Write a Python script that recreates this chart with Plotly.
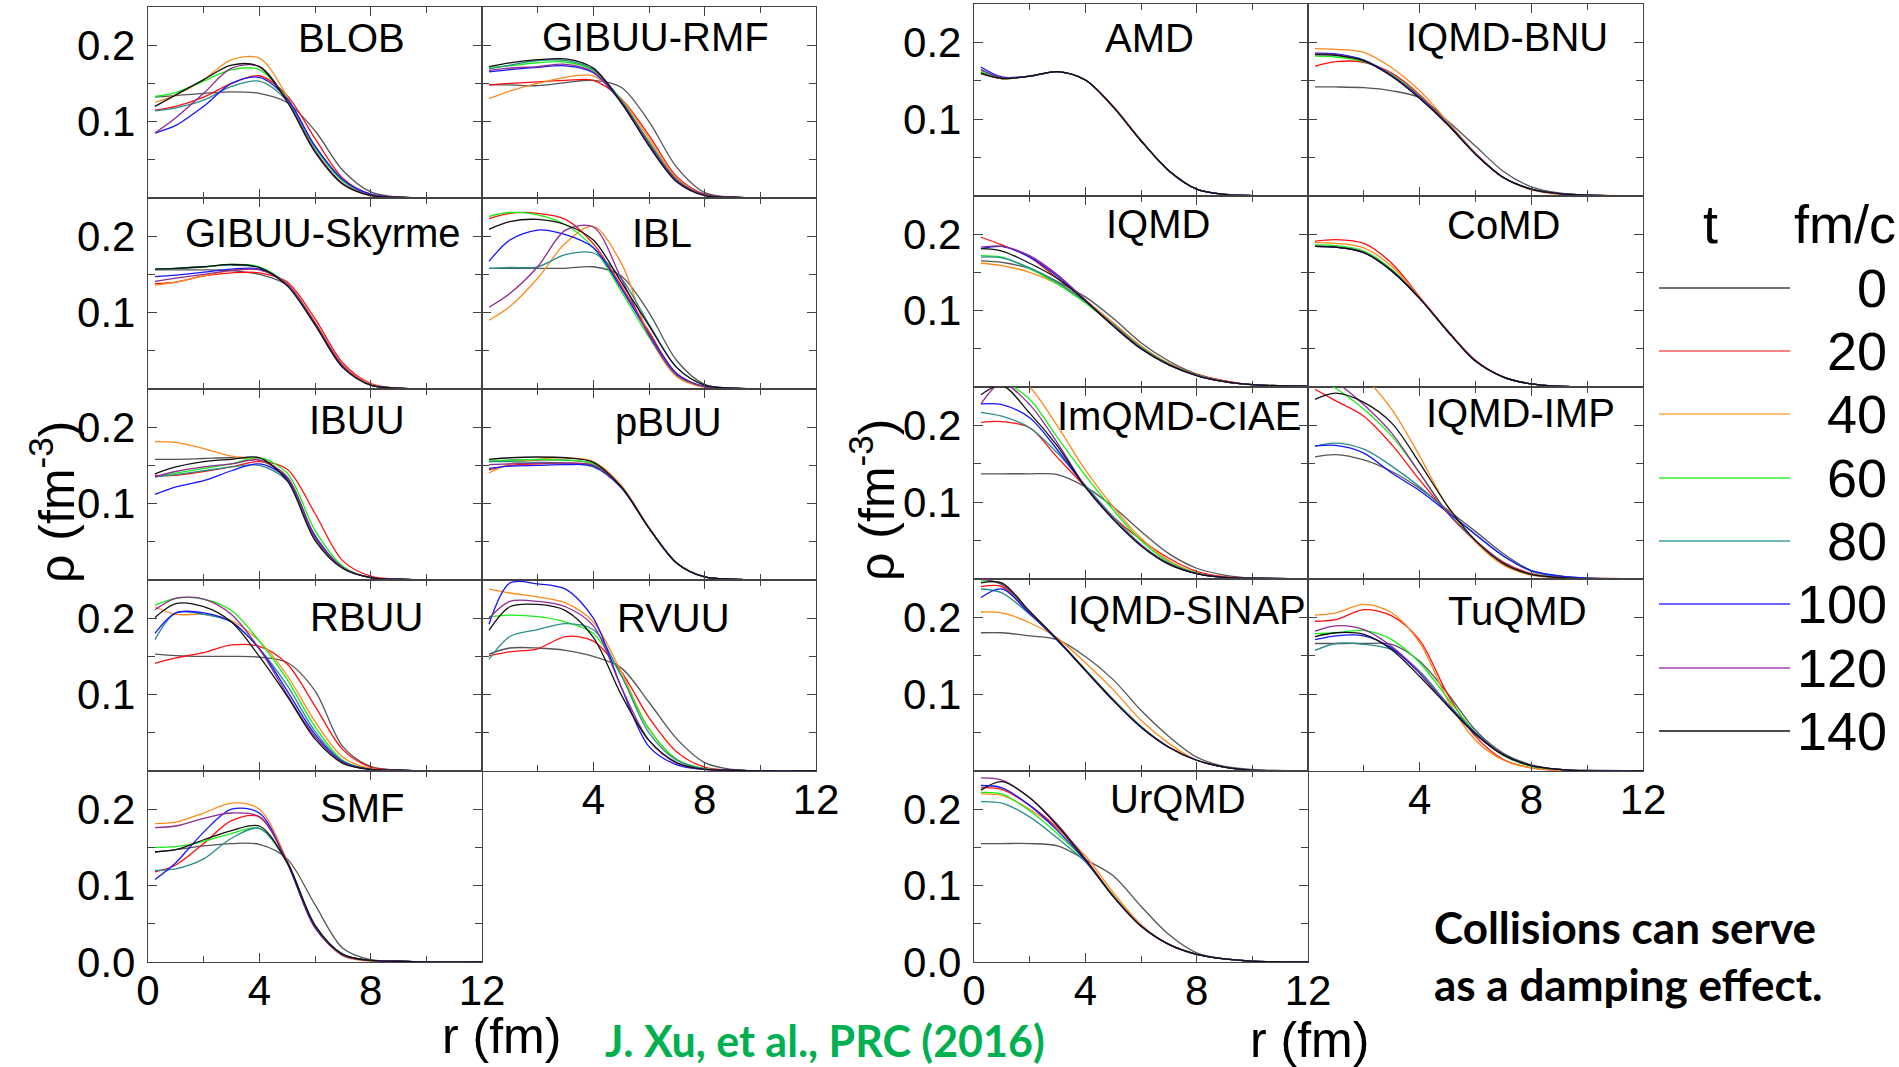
import plotly.graph_objects as go

W, H = 1899, 1067

# radial grid (fm)
R = [0.25, 1, 2, 3, 4, 5, 6, 7, 8, 9, 10, 12]
T_LABELS = ['0', '20', '40', '60', '80', '100', '120', '140']
LINE_COLORS = ['#555555', '#ff1010', '#ff8a1c', '#17f017', '#2b8d8d', '#1515ff', '#8e2a92', '#111111']
LEG_COLORS = ['#444444', '#ff5a5a', '#ffa94d', '#33ee33', '#3f9f9f', '#6a6aff', '#a040b0', '#111111']

# density values rho(r) for t = 0,20,...,140 fm/c
BLOB = [
    [0.132, 0.134, 0.137, 0.139, 0.137, 0.125, 0.088, 0.036, 0.008, 0.001, 0, 0],
    [0.115, 0.120, 0.132, 0.150, 0.160, 0.134, 0.078, 0.026, 0.005, 0.001, 0, 0],
    [0.125, 0.135, 0.155, 0.181, 0.183, 0.133, 0.062, 0.018, 0.003, 0.001, 0, 0],
    [0.133, 0.138, 0.153, 0.168, 0.168, 0.130, 0.066, 0.022, 0.004, 0.001, 0, 0],
    [0.114, 0.118, 0.128, 0.146, 0.153, 0.127, 0.068, 0.024, 0.005, 0.001, 0, 0],
    [0.085, 0.095, 0.120, 0.150, 0.158, 0.130, 0.068, 0.024, 0.005, 0.001, 0, 0],
    [0.085, 0.105, 0.137, 0.170, 0.172, 0.127, 0.062, 0.019, 0.004, 0.001, 0, 0],
    [0.120, 0.135, 0.155, 0.174, 0.172, 0.126, 0.060, 0.018, 0.003, 0.001, 0, 0],
]
GIBUU_RMF = [
    [0.148, 0.148, 0.147, 0.151, 0.154, 0.145, 0.100, 0.040, 0.007, 0.001, 0, 0],
    [0.148, 0.150, 0.152, 0.154, 0.154, 0.130, 0.082, 0.028, 0.005, 0.001, 0, 0],
    [0.130, 0.140, 0.150, 0.158, 0.160, 0.130, 0.078, 0.026, 0.004, 0.001, 0, 0],
    [0.171, 0.173, 0.177, 0.178, 0.167, 0.128, 0.074, 0.024, 0.004, 0.001, 0, 0],
    [0.169, 0.174, 0.180, 0.180, 0.168, 0.128, 0.073, 0.024, 0.004, 0.001, 0, 0],
    [0.165, 0.168, 0.171, 0.173, 0.164, 0.125, 0.070, 0.022, 0.004, 0.001, 0, 0],
    [0.167, 0.170, 0.172, 0.175, 0.165, 0.126, 0.071, 0.023, 0.004, 0.001, 0, 0],
    [0.172, 0.177, 0.181, 0.182, 0.170, 0.125, 0.068, 0.021, 0.003, 0.001, 0, 0],
]
GIBUU_SKYRME = [
    [0.156, 0.156, 0.156, 0.155, 0.150, 0.136, 0.086, 0.030, 0.006, 0.001, 0, 0],
    [0.138, 0.140, 0.148, 0.152, 0.152, 0.140, 0.092, 0.034, 0.007, 0.001, 0, 0],
    [0.136, 0.140, 0.148, 0.155, 0.156, 0.138, 0.088, 0.031, 0.006, 0.001, 0, 0],
    [0.157, 0.158, 0.160, 0.163, 0.160, 0.137, 0.085, 0.029, 0.005, 0.001, 0, 0],
    [0.157, 0.158, 0.160, 0.162, 0.159, 0.136, 0.085, 0.029, 0.005, 0.001, 0, 0],
    [0.147, 0.149, 0.153, 0.157, 0.157, 0.137, 0.086, 0.030, 0.005, 0.001, 0, 0],
    [0.141, 0.145, 0.150, 0.155, 0.156, 0.137, 0.086, 0.030, 0.005, 0.001, 0, 0],
    [0.157, 0.158, 0.160, 0.163, 0.159, 0.135, 0.084, 0.028, 0.005, 0.001, 0, 0],
]
IBL = [
    [0.158, 0.158, 0.158, 0.158, 0.160, 0.148, 0.100, 0.037, 0.006, 0.001, 0, 0],
    [0.223, 0.230, 0.230, 0.222, 0.190, 0.135, 0.075, 0.020, 0.003, 0.001, 0, 0],
    [0.090, 0.108, 0.145, 0.191, 0.213, 0.165, 0.070, 0.016, 0.002, 0.001, 0, 0],
    [0.226, 0.231, 0.228, 0.215, 0.185, 0.128, 0.068, 0.018, 0.003, 0.001, 0, 0],
    [0.158, 0.159, 0.160, 0.176, 0.178, 0.145, 0.085, 0.028, 0.005, 0.001, 0, 0],
    [0.167, 0.195, 0.208, 0.202, 0.185, 0.132, 0.072, 0.020, 0.003, 0.001, 0, 0],
    [0.107, 0.125, 0.160, 0.208, 0.212, 0.145, 0.070, 0.018, 0.003, 0.001, 0, 0],
    [0.209, 0.219, 0.222, 0.215, 0.195, 0.140, 0.083, 0.028, 0.005, 0.001, 0, 0],
]
IBUU = [
    [0.158, 0.158, 0.159, 0.160, 0.157, 0.133, 0.055, 0.016, 0.003, 0.001, 0, 0],
    [0.137, 0.137, 0.142, 0.148, 0.155, 0.145, 0.087, 0.025, 0.005, 0.001, 0, 0],
    [0.181, 0.180, 0.172, 0.162, 0.157, 0.135, 0.058, 0.016, 0.003, 0.001, 0, 0],
    [0.135, 0.140, 0.146, 0.152, 0.160, 0.140, 0.065, 0.018, 0.003, 0.001, 0, 0],
    [0.135, 0.138, 0.143, 0.148, 0.150, 0.130, 0.055, 0.016, 0.003, 0.001, 0, 0],
    [0.112, 0.122, 0.130, 0.143, 0.152, 0.133, 0.058, 0.016, 0.003, 0.001, 0, 0],
    [0.135, 0.142, 0.148, 0.152, 0.157, 0.135, 0.056, 0.016, 0.003, 0.001, 0, 0],
    [0.139, 0.148, 0.155, 0.158, 0.160, 0.130, 0.052, 0.015, 0.003, 0.001, 0, 0],
]
PBUU = [
    [0.155, 0.157, 0.157, 0.157, 0.152, 0.122, 0.068, 0.022, 0.004, 0.001, 0, 0],
    [0.144, 0.150, 0.152, 0.153, 0.150, 0.122, 0.068, 0.022, 0.004, 0.001, 0, 0],
    [0.140, 0.152, 0.158, 0.160, 0.155, 0.124, 0.069, 0.022, 0.004, 0.001, 0, 0],
    [0.156, 0.157, 0.158, 0.157, 0.152, 0.122, 0.068, 0.022, 0.004, 0.001, 0, 0],
    [0.155, 0.155, 0.154, 0.153, 0.148, 0.121, 0.068, 0.022, 0.004, 0.001, 0, 0],
    [0.146, 0.149, 0.150, 0.151, 0.149, 0.121, 0.068, 0.022, 0.004, 0.001, 0, 0],
    [0.151, 0.152, 0.153, 0.153, 0.150, 0.122, 0.068, 0.022, 0.004, 0.001, 0, 0],
    [0.158, 0.160, 0.161, 0.160, 0.154, 0.122, 0.068, 0.022, 0.004, 0.001, 0, 0],
]
RBUU = [
    [0.153, 0.151, 0.150, 0.150, 0.149, 0.142, 0.105, 0.032, 0.006, 0.001, 0, 0],
    [0.141, 0.148, 0.155, 0.165, 0.163, 0.140, 0.085, 0.028, 0.005, 0.001, 0, 0],
    [0.215, 0.205, 0.205, 0.197, 0.170, 0.125, 0.065, 0.018, 0.003, 0.001, 0, 0],
    [0.217, 0.226, 0.225, 0.210, 0.170, 0.120, 0.058, 0.014, 0.002, 0.001, 0, 0],
    [0.172, 0.207, 0.205, 0.195, 0.160, 0.112, 0.052, 0.013, 0.002, 0.001, 0, 0],
    [0.180, 0.207, 0.207, 0.195, 0.160, 0.105, 0.048, 0.012, 0.002, 0.001, 0, 0],
    [0.211, 0.226, 0.225, 0.205, 0.160, 0.100, 0.045, 0.011, 0.002, 0.001, 0, 0],
    [0.201, 0.219, 0.215, 0.195, 0.150, 0.098, 0.042, 0.010, 0.002, 0.001, 0, 0],
]
RVUU = [
    [0.153, 0.161, 0.161, 0.158, 0.150, 0.135, 0.090, 0.042, 0.011, 0.002, 0, 0],
    [0.151, 0.156, 0.160, 0.176, 0.170, 0.130, 0.070, 0.025, 0.005, 0.001, 0, 0],
    [0.238, 0.233, 0.228, 0.220, 0.195, 0.130, 0.055, 0.015, 0.003, 0.001, 0, 0],
    [0.202, 0.204, 0.202, 0.195, 0.180, 0.125, 0.055, 0.015, 0.003, 0.001, 0, 0],
    [0.146, 0.176, 0.185, 0.193, 0.185, 0.125, 0.050, 0.014, 0.003, 0.001, 0, 0],
    [0.192, 0.246, 0.245, 0.238, 0.200, 0.110, 0.032, 0.008, 0.002, 0.001, 0, 0],
    [0.200, 0.222, 0.222, 0.215, 0.190, 0.110, 0.040, 0.010, 0.002, 0.001, 0, 0],
    [0.184, 0.215, 0.218, 0.210, 0.175, 0.100, 0.040, 0.011, 0.002, 0.001, 0, 0],
]
SMF = [
    [0.144, 0.147, 0.152, 0.155, 0.154, 0.135, 0.075, 0.018, 0.003, 0.001, 0, 0],
    [0.118, 0.127, 0.155, 0.185, 0.190, 0.130, 0.045, 0.010, 0.002, 0.001, 0, 0],
    [0.181, 0.183, 0.195, 0.208, 0.200, 0.133, 0.045, 0.008, 0.001, 0.001, 0, 0],
    [0.150, 0.151, 0.158, 0.168, 0.175, 0.130, 0.048, 0.010, 0.002, 0.001, 0, 0],
    [0.120, 0.122, 0.135, 0.162, 0.175, 0.130, 0.048, 0.010, 0.002, 0.001, 0, 0],
    [0.108, 0.130, 0.170, 0.200, 0.195, 0.130, 0.045, 0.009, 0.002, 0.001, 0, 0],
    [0.176, 0.178, 0.188, 0.195, 0.190, 0.132, 0.046, 0.009, 0.002, 0.001, 0, 0],
    [0.144, 0.147, 0.160, 0.172, 0.178, 0.130, 0.048, 0.010, 0.002, 0.001, 0, 0],
]
AMD = [
    [0.159, 0.153, 0.156, 0.162, 0.151, 0.116, 0.072, 0.033, 0.009, 0.002, 0.0005, 0],
    [0.160, 0.153, 0.156, 0.162, 0.151, 0.117, 0.072, 0.033, 0.009, 0.002, 0.0005, 0],
    [0.161, 0.153, 0.156, 0.162, 0.151, 0.117, 0.073, 0.033, 0.009, 0.002, 0.0005, 0],
    [0.162, 0.153, 0.156, 0.162, 0.151, 0.116, 0.072, 0.033, 0.009, 0.002, 0.0005, 0],
    [0.164, 0.154, 0.156, 0.162, 0.151, 0.116, 0.072, 0.033, 0.009, 0.002, 0.0005, 0],
    [0.168, 0.155, 0.156, 0.162, 0.151, 0.116, 0.072, 0.033, 0.009, 0.002, 0.0005, 0],
    [0.165, 0.154, 0.156, 0.162, 0.151, 0.116, 0.072, 0.033, 0.009, 0.002, 0.0005, 0],
    [0.160, 0.153, 0.156, 0.162, 0.151, 0.116, 0.072, 0.033, 0.009, 0.002, 0.0005, 0],
]
IQMD_BNU = [
    [0.142, 0.142, 0.141, 0.137, 0.128, 0.098, 0.065, 0.032, 0.012, 0.004, 0.001, 0],
    [0.169, 0.175, 0.174, 0.160, 0.132, 0.094, 0.055, 0.024, 0.009, 0.003, 0.001, 0],
    [0.192, 0.191, 0.187, 0.167, 0.137, 0.097, 0.056, 0.024, 0.008, 0.002, 0.001, 0],
    [0.182, 0.181, 0.175, 0.158, 0.130, 0.094, 0.055, 0.024, 0.009, 0.003, 0.001, 0],
    [0.185, 0.184, 0.177, 0.157, 0.129, 0.094, 0.055, 0.024, 0.009, 0.003, 0.001, 0],
    [0.186, 0.185, 0.177, 0.157, 0.129, 0.094, 0.055, 0.024, 0.009, 0.003, 0.001, 0],
    [0.185, 0.184, 0.176, 0.156, 0.128, 0.093, 0.055, 0.024, 0.009, 0.003, 0.001, 0],
    [0.184, 0.183, 0.176, 0.156, 0.127, 0.093, 0.054, 0.024, 0.009, 0.003, 0.001, 0],
]
IQMD = [
    [0.165, 0.163, 0.155, 0.138, 0.118, 0.090, 0.058, 0.034, 0.017, 0.008, 0.003, 0.001],
    [0.196, 0.186, 0.170, 0.142, 0.114, 0.083, 0.052, 0.031, 0.017, 0.008, 0.003, 0.001],
    [0.162, 0.159, 0.150, 0.135, 0.113, 0.084, 0.054, 0.031, 0.016, 0.007, 0.003, 0.001],
    [0.172, 0.170, 0.155, 0.135, 0.110, 0.081, 0.052, 0.030, 0.016, 0.007, 0.003, 0.001],
    [0.170, 0.169, 0.156, 0.137, 0.112, 0.082, 0.052, 0.030, 0.016, 0.007, 0.003, 0.001],
    [0.181, 0.184, 0.170, 0.145, 0.113, 0.080, 0.050, 0.029, 0.015, 0.007, 0.003, 0.001],
    [0.183, 0.184, 0.172, 0.147, 0.114, 0.080, 0.050, 0.029, 0.015, 0.007, 0.003, 0.001],
    [0.181, 0.178, 0.162, 0.142, 0.113, 0.080, 0.050, 0.029, 0.015, 0.007, 0.003, 0.001],
]
COMD = [
    [0.184, 0.183, 0.176, 0.152, 0.116, 0.073, 0.034, 0.013, 0.004, 0.001, 0, 0],
    [0.191, 0.193, 0.188, 0.162, 0.118, 0.074, 0.035, 0.013, 0.004, 0.001, 0, 0],
    [0.189, 0.188, 0.182, 0.158, 0.117, 0.073, 0.034, 0.013, 0.004, 0.001, 0, 0],
    [0.186, 0.185, 0.178, 0.154, 0.116, 0.073, 0.034, 0.013, 0.004, 0.001, 0, 0],
    [0.184, 0.183, 0.176, 0.152, 0.116, 0.073, 0.034, 0.013, 0.004, 0.001, 0, 0],
    [0.184, 0.183, 0.176, 0.152, 0.116, 0.073, 0.034, 0.013, 0.004, 0.001, 0, 0],
    [0.184, 0.183, 0.176, 0.152, 0.116, 0.073, 0.034, 0.013, 0.004, 0.001, 0, 0],
    [0.184, 0.183, 0.176, 0.152, 0.116, 0.073, 0.034, 0.013, 0.004, 0.001, 0, 0],
]
IMQMD_CIAE = [
    [0.137, 0.137, 0.137, 0.136, 0.120, 0.094, 0.062, 0.033, 0.014, 0.005, 0.001, 0],
    [0.204, 0.205, 0.197, 0.158, 0.120, 0.081, 0.051, 0.027, 0.010, 0.003, 0.001, 0],
    [0.285, 0.275, 0.250, 0.199, 0.142, 0.094, 0.053, 0.024, 0.008, 0.002, 0.001, 0],
    [0.265, 0.258, 0.234, 0.184, 0.135, 0.090, 0.050, 0.022, 0.008, 0.002, 0.001, 0],
    [0.217, 0.212, 0.197, 0.164, 0.122, 0.081, 0.045, 0.020, 0.007, 0.002, 0.001, 0],
    [0.228, 0.227, 0.210, 0.168, 0.120, 0.078, 0.044, 0.020, 0.007, 0.002, 0.001, 0],
    [0.228, 0.255, 0.227, 0.177, 0.120, 0.078, 0.044, 0.020, 0.007, 0.002, 0.001, 0],
    [0.240, 0.252, 0.216, 0.173, 0.120, 0.078, 0.043, 0.019, 0.007, 0.002, 0.001, 0],
]
IQMD_IMP = [
    [0.159, 0.162, 0.155, 0.140, 0.118, 0.090, 0.062, 0.033, 0.011, 0.004, 0.001, 0],
    [0.247, 0.232, 0.212, 0.175, 0.129, 0.086, 0.050, 0.022, 0.007, 0.002, 0.001, 0],
    [0.290, 0.283, 0.262, 0.221, 0.160, 0.094, 0.048, 0.018, 0.005, 0.001, 0, 0],
    [0.262, 0.248, 0.221, 0.186, 0.138, 0.087, 0.050, 0.021, 0.006, 0.002, 0, 0],
    [0.173, 0.177, 0.169, 0.147, 0.120, 0.088, 0.058, 0.030, 0.010, 0.003, 0.001, 0],
    [0.173, 0.174, 0.164, 0.138, 0.115, 0.087, 0.058, 0.030, 0.011, 0.004, 0.001, 0],
    [0.268, 0.256, 0.227, 0.190, 0.138, 0.086, 0.050, 0.021, 0.006, 0.002, 0, 0],
    [0.234, 0.242, 0.230, 0.203, 0.151, 0.095, 0.050, 0.020, 0.006, 0.002, 0, 0],
]
IQMD_SINAP = [
    [0.180, 0.180, 0.176, 0.171, 0.149, 0.119, 0.079, 0.045, 0.018, 0.006, 0.002, 0],
    [0.240, 0.240, 0.206, 0.171, 0.132, 0.093, 0.058, 0.031, 0.014, 0.005, 0.001, 0],
    [0.207, 0.206, 0.193, 0.173, 0.141, 0.106, 0.066, 0.036, 0.014, 0.005, 0.001, 0],
    [0.248, 0.243, 0.206, 0.171, 0.132, 0.093, 0.058, 0.031, 0.014, 0.005, 0.001, 0],
    [0.237, 0.232, 0.204, 0.170, 0.132, 0.093, 0.058, 0.031, 0.014, 0.005, 0.001, 0],
    [0.226, 0.237, 0.205, 0.170, 0.131, 0.092, 0.057, 0.031, 0.014, 0.005, 0.001, 0],
    [0.250, 0.243, 0.207, 0.171, 0.131, 0.092, 0.057, 0.031, 0.014, 0.005, 0.001, 0],
    [0.245, 0.245, 0.208, 0.171, 0.131, 0.092, 0.057, 0.031, 0.014, 0.005, 0.001, 0],
]
TUQMD = [
    [0.166, 0.166, 0.166, 0.165, 0.143, 0.101, 0.053, 0.023, 0.008, 0.002, 0.001, 0],
    [0.195, 0.197, 0.210, 0.202, 0.170, 0.100, 0.045, 0.015, 0.004, 0.001, 0, 0],
    [0.203, 0.206, 0.217, 0.206, 0.167, 0.093, 0.040, 0.014, 0.004, 0.001, 0, 0],
    [0.179, 0.180, 0.183, 0.171, 0.141, 0.095, 0.050, 0.020, 0.006, 0.002, 0, 0],
    [0.157, 0.166, 0.165, 0.158, 0.130, 0.088, 0.050, 0.021, 0.007, 0.002, 0, 0],
    [0.171, 0.176, 0.176, 0.160, 0.127, 0.086, 0.049, 0.021, 0.007, 0.002, 0, 0],
    [0.182, 0.189, 0.184, 0.162, 0.128, 0.085, 0.048, 0.021, 0.007, 0.002, 0, 0],
    [0.175, 0.180, 0.178, 0.158, 0.123, 0.085, 0.048, 0.021, 0.007, 0.002, 0, 0],
]
URQMD = [
    [0.155, 0.155, 0.155, 0.152, 0.134, 0.113, 0.073, 0.036, 0.012, 0.004, 0.001, 0],
    [0.228, 0.226, 0.205, 0.175, 0.135, 0.087, 0.047, 0.023, 0.010, 0.004, 0.001, 0],
    [0.220, 0.218, 0.200, 0.174, 0.139, 0.091, 0.049, 0.023, 0.010, 0.004, 0.001, 0],
    [0.222, 0.220, 0.198, 0.168, 0.133, 0.087, 0.047, 0.023, 0.010, 0.004, 0.001, 0],
    [0.210, 0.208, 0.190, 0.162, 0.131, 0.086, 0.047, 0.023, 0.010, 0.004, 0.001, 0],
    [0.231, 0.228, 0.205, 0.172, 0.133, 0.086, 0.047, 0.023, 0.010, 0.004, 0.001, 0],
    [0.241, 0.238, 0.215, 0.180, 0.135, 0.086, 0.047, 0.023, 0.010, 0.004, 0.001, 0],
    [0.225, 0.236, 0.215, 0.178, 0.134, 0.086, 0.047, 0.023, 0.010, 0.004, 0.001, 0],
]

# panel layout: name, data, group (0 left / 1 right), column, row, title centre (px)
PANELS = [
    ('BLOB', BLOB, 0, 0, 0, 351, 38),
    ('GIBUU-RMF', GIBUU_RMF, 0, 1, 0, 655, 37),
    ('GIBUU-Skyrme', GIBUU_SKYRME, 0, 0, 1, 323, 233),
    ('IBL', IBL, 0, 1, 1, 662, 233),
    ('IBUU', IBUU, 0, 0, 2, 357, 420),
    ('pBUU', PBUU, 0, 1, 2, 668, 422),
    ('RBUU', RBUU, 0, 0, 3, 366, 617),
    ('RVUU', RVUU, 0, 1, 3, 673, 618),
    ('SMF', SMF, 0, 0, 4, 362, 808),
    ('AMD', AMD, 1, 0, 0, 1149, 38),
    ('IQMD-BNU', IQMD_BNU, 1, 1, 0, 1507, 37),
    ('IQMD', IQMD, 1, 0, 1, 1158, 224),
    ('CoMD', COMD, 1, 1, 1, 1503, 225),
    ('ImQMD-CIAE', IMQMD_CIAE, 1, 0, 2, 1179, 416),
    ('IQMD-IMP', IQMD_IMP, 1, 1, 2, 1520, 413),
    ('IQMD-SINAP', IQMD_SINAP, 1, 0, 3, 1187, 610),
    ('TuQMD', TUQMD, 1, 1, 3, 1517, 611),
    ('UrQMD', URQMD, 1, 0, 4, 1178, 799),
]

COL_X = [[(148, 482), (482, 816)], [(974, 1308), (1308, 1643)]]
ROW_Y = [[7, 198, 389, 580, 771, 962], [4, 196, 387, 579, 771, 962]]

FONT = 'Liberation Sans, Arial, sans-serif'
FRAME = '#444444'

fig = go.Figure()
layout = {}
annotations = []

for i, (name, data, g, c, r, tx, ty) in enumerate(PANELS, start=1):
    x0, x1 = COL_X[g][c]
    y0, y1 = ROW_Y[g][r], ROW_Y[g][r + 1]
    xs = '' if i == 1 else str(i)
    for k, series in enumerate(data):
        fig.add_trace(go.Scatter(
            x=R, y=series, mode='lines', name=T_LABELS[k],
            line=dict(color=LINE_COLORS[k], width=1.3, shape='spline', smoothing=0.9),
            xaxis='x' + xs, yaxis='y' + xs, showlegend=False, hoverinfo='skip'))

    bottom_row = (r == 4) or (c == 1 and r == 3)
    if bottom_row and c == 0:
        xvals, xtext, xshow = [0, 4, 8, 12], ['0', '4', '8', '12'], True
    elif bottom_row:
        xvals, xtext, xshow = [4, 8, 12], ['4', '8', '12'], True
    else:
        xvals, xtext, xshow = [4, 8], ['4', '8'], False
    if c == 0 and r == 4:
        yvals, ytext, yshow = [0.0, 0.1, 0.2], ['0.0', '0.1', '0.2'], True
    elif c == 0:
        yvals, ytext, yshow = [0.1, 0.2], ['0.1', '0.2'], True
    else:
        yvals, ytext, yshow = [0.1, 0.2], ['0.1', '0.2'], False

    layout['xaxis' + xs] = dict(
        domain=[x0 / W, x1 / W], anchor='y' + xs, range=[0, 12], automargin=False,
        showgrid=False, zeroline=False, showline=True, linecolor=FRAME, linewidth=1.3,
        mirror='ticks', ticks='inside', ticklen=9, tickwidth=1.3, tickcolor=FRAME,
        tickmode='array', tickvals=xvals, ticktext=xtext, showticklabels=xshow,
        tickfont=dict(family=FONT, size=42, color='black'), ticklabelstandoff=-9,
        minor=dict(tickmode='array', tickvals=[2, 6, 10], ticks='inside', ticklen=6,
                   tickwidth=1.3, tickcolor=FRAME, showgrid=False),
        fixedrange=True)
    layout['yaxis' + xs] = dict(
        domain=[1 - y1 / H, 1 - y0 / H], anchor='x' + xs, range=[0, 0.25], automargin=False,
        showgrid=False, zeroline=False, showline=True, linecolor=FRAME, linewidth=1.3,
        mirror='ticks', ticks='inside', ticklen=9, tickwidth=1.3, tickcolor=FRAME,
        tickmode='array', tickvals=yvals, ticktext=ytext, showticklabels=yshow,
        tickfont=dict(family=FONT, size=42, color='black'), ticklabelstandoff=3,
        minor=dict(tickmode='array', tickvals=[0.05, 0.15], ticks='inside', ticklen=7,
                   tickwidth=1.3, tickcolor=FRAME, showgrid=False),
        fixedrange=True)

    annotations.append(dict(text=name, x=tx / W, y=1 - ty / H, xref='paper', yref='paper',
                            xanchor='center', yanchor='middle', showarrow=False,
                            font=dict(family=FONT, size=40, color='black')))

# axis titles
for (cx, cy) in [(53, 502), (873, 500)]:
    annotations.append(dict(text='ρ (fm<sup>-3</sup>)', x=cx / W, y=1 - cy / H,
                            xref='paper', yref='paper', xanchor='center', yanchor='middle',
                            textangle=-90, showarrow=False,
                            font=dict(family=FONT, size=50, color='black')))
for (cx, cy) in [(501, 1036), (1309, 1040)]:
    annotations.append(dict(text='r (fm)', x=cx / W, y=1 - cy / H, xref='paper', yref='paper',
                            xanchor='center', yanchor='middle', showarrow=False,
                            font=dict(family=FONT, size=50, color='black')))

# citation and remark
annotations.append(dict(text='<b>J. Xu, et al., PRC (2016)</b>', x=825 / W, y=1 - 1040 / H,
                        xref='paper', yref='paper', xanchor='center', yanchor='middle',
                        showarrow=False, font=dict(family='Lato, Open Sans, sans-serif', size=43, color='#00b050')))
annotations.append(dict(text='<b>Collisions can serve</b>', x=1432 / W, y=1 - 927 / H,
                        xref='paper', yref='paper', xanchor='left', yanchor='middle',
                        showarrow=False, font=dict(family='Lato, Open Sans, sans-serif', size=44, color='black')))
annotations.append(dict(text='<b>as a damping effect.</b>', x=1432 / W, y=1 - 984 / H,
                        xref='paper', yref='paper', xanchor='left', yanchor='middle',
                        showarrow=False, font=dict(family='Lato, Open Sans, sans-serif', size=44, color='black')))

# legend (drawn manually)
shapes = []
annotations.append(dict(text='t', x=1710 / W, y=1 - 224 / H, xref='paper', yref='paper',
                        xanchor='center', yanchor='middle', showarrow=False,
                        font=dict(family=FONT, size=54, color='black')))
annotations.append(dict(text='fm/c', x=1792 / W, y=1 - 224 / H, xref='paper', yref='paper',
                        xanchor='left', yanchor='middle', showarrow=False,
                        font=dict(family=FONT, size=54, color='black')))
LEG_Y = [288, 351, 414, 478, 541, 604, 668, 731]
for k, lab in enumerate(T_LABELS):
    yy = 1 - LEG_Y[k] / H
    shapes.append(dict(type='line', xref='paper', yref='paper', x0=1659 / W, x1=1790 / W,
                       y0=yy, y1=yy, line=dict(color=LEG_COLORS[k], width=2 if k == 5 else 1.3)))
    annotations.append(dict(text=lab, x=1889 / W, y=yy, xref='paper', yref='paper',
                            xanchor='right', yanchor='middle', showarrow=False,
                            font=dict(family=FONT, size=54, color='black')))

fig.update_layout(**layout)
fig.update_layout(width=W, height=H, margin=dict(l=0, r=0, t=0, b=0, autoexpand=False),
                  paper_bgcolor='white', plot_bgcolor='white', showlegend=False,
                  annotations=annotations, shapes=shapes)

fig.write_html('out.html', config={'displayModeBar': False})
